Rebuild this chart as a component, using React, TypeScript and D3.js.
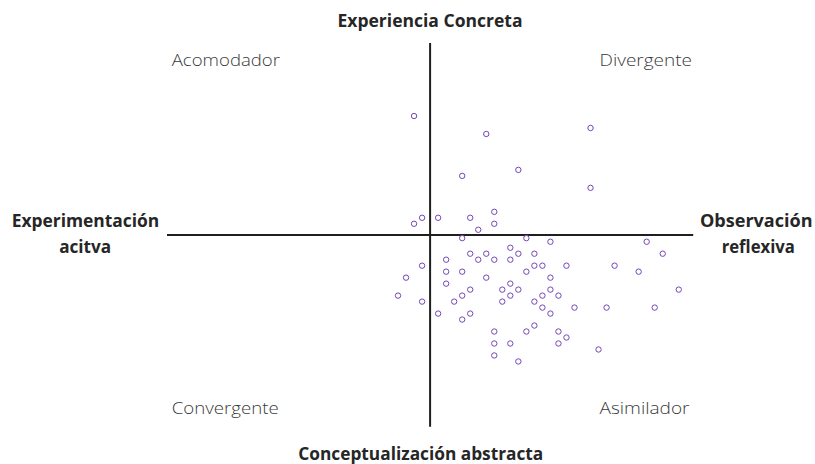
import React, { useEffect, useRef } from 'react';
import * as d3 from 'd3';

// Observación reflexiva − Experimentación activa (horizontal)
const xScores = [
  -2, 7, 4, 11, -1, -2, 1, 5, 8, 6, 8, 20, 20,
  4, 12, 10, 5, 7, 11, 13, 2, 6, 8, 10, -1, 2, 4, 12, 13, -3, 7, 2, 10, 9, 11, 5,
  -4, 4, 10, -1, 3, 9, 13, 1, 5, 4, 8, 12, 13, 8, 10, 8, 11,
  15, 27, 29, 14, 17, 23, 26, 15, 15, 31, 14, 16, 14, 18, 22, 28, 15, 16, 17, 16, 21,
];
// Experiencia concreta − Conceptualización abstracta (vertical)
const yScores = [
  20, 17, 10, 11, 3, 2, 3, 3, 4, 1, 2, 18, 8,
  -0.4, -0.4, -2, -3, -3, -3, -3, -4, -4, -4, -4, -5, -6, -6, -6, -5, -7, -7, -8, -8, -9, -9, -9,
  -10, -10, -10, -11, -11, -11, -11, -13, -13, -14, -16, -16, -15, -18, -18, -20, -21,
  -1, -1, -3, -5, -5, -5, -6, -7, -9, -9, -10, -10, -12, -12, -12, -12, -13, -16, -17, -18, -19,
];

const quadrantNames = ['Acomodador', 'Divergente', 'Convergente', 'Asimilador'];
const topTitle = 'Experiencia Concreta';
const bottomTitle = 'Conceptualización abstracta';
const leftTitle = ['Experimentación', 'acitva'];
const rightTitle = ['Observación', 'reflexiva'];

const xDomain = [-32.8, 32.8];
const yDomain = [-31.9, 32.2];

export default function App() {
  const ref = useRef<SVGSVGElement | null>(null);

  useEffect(() => {
    const svg = d3.select(ref.current);
    svg.selectAll('*').remove();

    const x = d3.scaleLinear().domain(xDomain).range([167, 693.2]);
    const y = d3.scaleLinear().domain(yDomain).range([426.7, 43]);

    const axisColor = '#1f1f1f';
    svg.append('line')
      .attr('x1', x(0)).attr('x2', x(0))
      .attr('y1', y(yDomain[0])).attr('y2', y(yDomain[1]))
      .attr('stroke', axisColor).attr('stroke-width', 2);
    svg.append('line')
      .attr('x1', x(xDomain[0])).attr('x2', x(xDomain[1]))
      .attr('y1', y(0) - 0.75).attr('y2', y(0) - 0.75)
      .attr('stroke', axisColor).attr('stroke-width', 2);

    const pts = xScores.map((v, i) => ({ x: v, y: yScores[i] }));
    svg.append('g').selectAll('circle').data(pts).join('circle')
      .attr('cx', d => x(d.x)).attr('cy', d => y(d.y))
      .attr('r', 2.7)
      .attr('fill', '#ffffff')
      .attr('stroke', '#7446b8')
      .attr('stroke-width', 1);

    const bold = (txt: string, px: number, py: number, anchor: string, target: number) =>
      svg.append('text').text(txt)
        .attr('x', px).attr('y', py)
        .attr('text-anchor', anchor)
        .attr('font-family', '"Open Sans", sans-serif')
        .attr('font-size', 17)
        .attr('font-weight', 700)
        .attr('fill', '#262626')
        .attr('textLength', target)
        .attr('lengthAdjust', 'spacingAndGlyphs');

    const light = (txt: string, px: number, py: number, target: number) =>
      svg.append('text').text(txt)
        .attr('x', px).attr('y', py)
        .attr('font-family', '"Open Sans", sans-serif')
        .attr('font-size', 16.2)
        .attr('font-weight', 300)
        .attr('fill', '#3a3a3a')
        .attr('textLength', target)
        .attr('lengthAdjust', 'spacingAndGlyphs');

    bold(topTitle, 430, 26.7, 'middle', 185);
    bold(bottomTitle, 298.3, 460, 'start', 245);

    bold(leftTitle[0], 85.5, 227.3, 'middle', 147.6);
    bold(leftTitle[1], 85.2, 252.8, 'middle', 52);

    bold(rightTitle[0], 756.3, 227.3, 'middle', 112.7);
    bold(rightTitle[1], 758.3, 252.8, 'middle', 73.3);

    light(quadrantNames[0], 171.7, 66, 108.3);
    light(quadrantNames[1], 599.5, 66, 92.5);
    light(quadrantNames[2], 171.7, 414.3, 107);
    light(quadrantNames[3], 599.5, 414.3, 90);
  }, []);

  return (
    <svg
      ref={ref}
      width={815}
      height={464}
      style={{ position: 'absolute', left: 0, top: 0, background: '#ffffff' }}
    />
  );
}
